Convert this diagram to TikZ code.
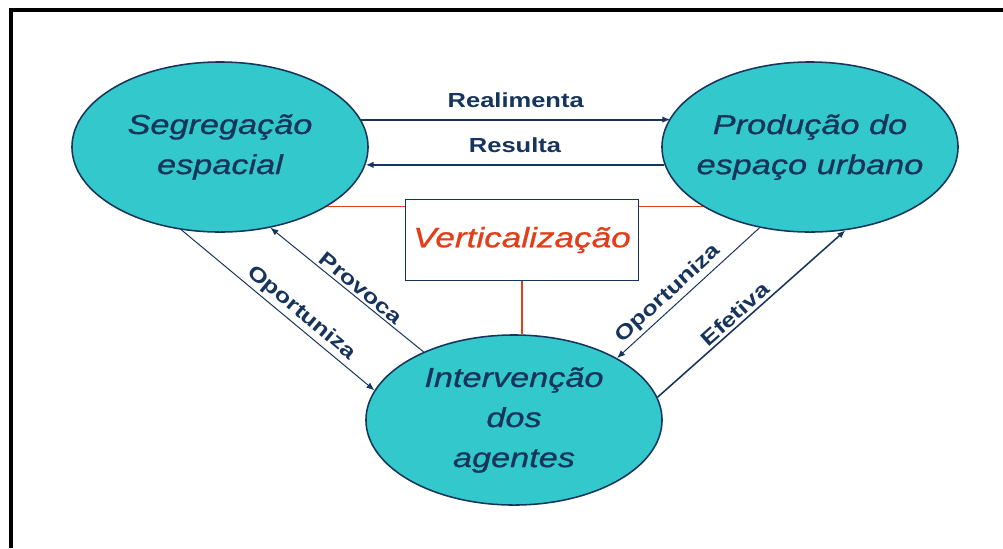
\documentclass[tikz,border=0pt]{standalone}
\usepackage{fontspec}
\usepackage{xcolor}
\setmainfont{Liberation Sans}
\newfontfamily\wideface[FakeStretch=1.25]{Liberation Sans}
\newfontfamily\heavyface[FakeStretch=1.25,FakeBold=0.8]{Liberation Sans}
\usetikzlibrary{shapes.geometric,arrows.meta}

\definecolor{navy}{RGB}{22,52,92}
\definecolor{turq}{RGB}{51,200,204}
\definecolor{redline}{RGB}{228,62,24}

\begin{document}
\begin{tikzpicture}[
	%Environment config
	x=0.025cm, y=-0.025cm,
	%Environment styles
	EllipseCfg/.style={
		ellipse,
		draw=navy,
		line width=1.1pt,
		fill=turq,
		inner sep=0pt,
		minimum width=7.4cm,
		minimum height=4.25cm
	},
	EllTextCfg/.style={
		align=center,
		text=navy,
		font=\heavyface\itshape\fontsize{19.5}{28.5}\selectfont
	},
	LabelCfg/.style={
		text=navy,
		inner sep=2pt,
		font=\wideface\bfseries\fontsize{14.5}{17}\selectfont
	},
	ArrowCfg/.style={
		draw=navy,
		line width=0.7pt,
		-{Latex[length=0.2cm,width=0.16cm]}
	},
	RedCfg/.style={
		draw=redline,
		line width=1pt
	}
	]
	\useasboundingbox (0,0) rectangle (1003,548);
	\fill[white] (0,0) rectangle (1003,548);
	\draw[line width=0.1cm] (11,548) -- (11,10) -- (1003,10);

	\path
	(220,147) node[EllipseCfg,label={[EllTextCfg]center:{Segregação\\espacial}}](SEG){}
	++ (590,0) node[EllipseCfg,label={[EllTextCfg]center:{Produção do\\espaço urbano}}](PROD){}
	(514,420) node[EllipseCfg,label={[EllTextCfg]center:{Intervenção\\dos\\agentes}}](INT){}
	(522,240) node[draw=navy,line width=0.9pt,fill=white,minimum width=5.825cm,minimum height=2.025cm,
		text=redline,font=\heavyface\itshape\fontsize{20}{24}\selectfont](VERT){Verticalização};

	% red links to the box
	\draw[RedCfg]
	(SEG.-29.8) -- (SEG.-29.8 -| VERT.west)
	(PROD.209.8) -- (PROD.209.8 -| VERT.east)
	(VERT.south) -- (VERT.south |- INT.north);

	\draw[ArrowCfg,line width=1.3pt]
	(SEG.11.33) -- (SEG.11.33 -| PROD.168.67) node[midway,above=6pt,LabelCfg]{Realimenta};
	\draw[ArrowCfg,line width=1.3pt]
	(PROD.187.92) -- (PROD.187.92 -| SEG.-7.92) node[midway,above=6pt,LabelCfg]{Resulta};

	\draw[ArrowCfg]
	(SEG.245) -- (INT.168) node[pos=0.58,above,sloped,LabelCfg]{Oportuniza};
	\draw[ArrowCfg]
	(INT.143) -- (SEG.-58.5) node[pos=0.45,above,sloped,LabelCfg]{Provoca};
	\draw[ArrowCfg]
	(PROD.238.5) -- (INT.31.5) node[pos=0.58,above,sloped,LabelCfg]{Oportuniza};
	\draw[ArrowCfg,line width=1.1pt]
	(INT.9) -- (PROD.-67) node[pos=0.45,above,sloped,LabelCfg]{Efetiva};
\end{tikzpicture}
\end{document}
